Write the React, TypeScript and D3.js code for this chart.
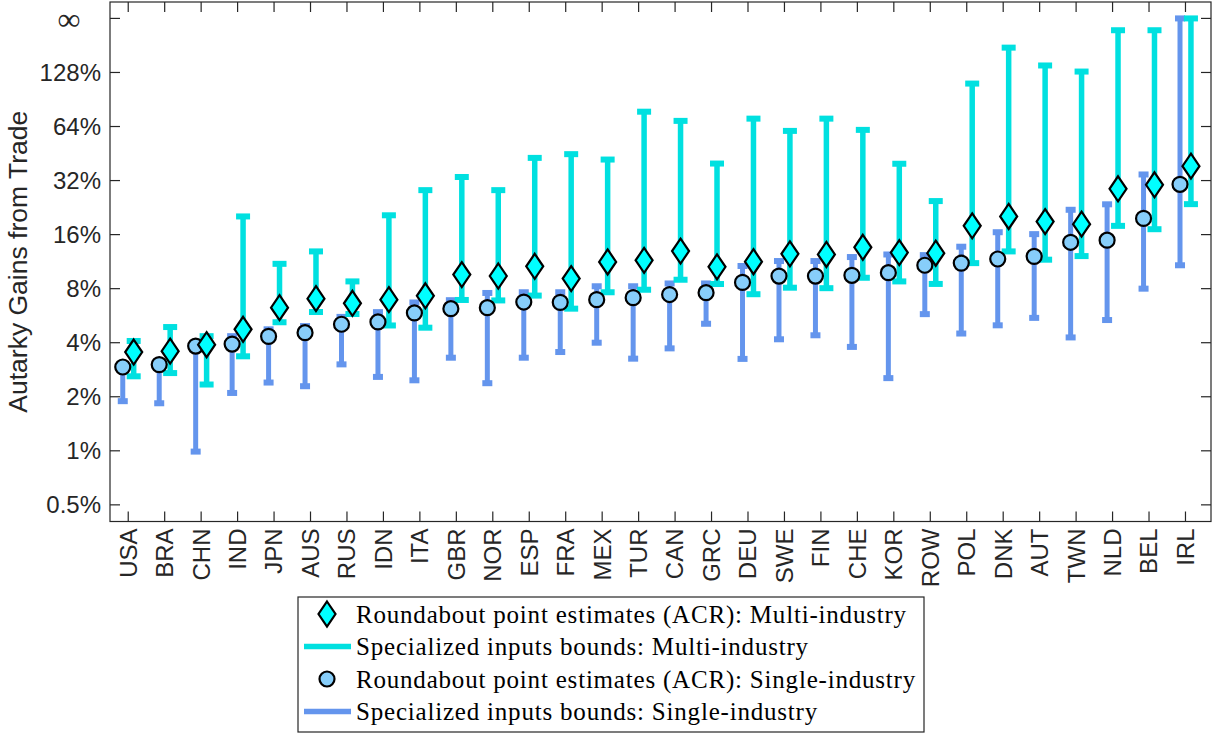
import React from "react";
import * as d3 from "d3";

// Countries, ordered by the single-industry point estimate
const countries = [
  "USA", "BRA", "CHN", "IND", "JPN", "AUS", "RUS", "IDN", "ITA", "GBR",
  "NOR", "ESP", "FRA", "MEX", "TUR", "CAN", "GRC", "DEU", "SWE", "FIN",
  "CHE", "KOR", "ROW", "POL", "DNK", "AUT", "TWN", "NLD", "BEL", "IRL",
];

// Gains from trade in percent; Infinity marks an unbounded upper bound
const singlePoint = [
  2.93, 3.02, 3.83, 3.93, 4.34, 4.55, 5.07, 5.22, 5.86, 6.19,
  6.27, 6.74, 6.71, 6.95, 7.13, 7.42, 7.6, 8.67, 9.4, 9.4,
  9.49, 9.82, 10.8, 11.1, 11.7, 12.1, 14.5, 14.9, 19.7, 30.5,
];
const singleLow = [
  1.89, 1.84, 0.99, 2.1, 2.4, 2.29, 3.03, 2.58, 2.47, 3.3,
  2.38, 3.3, 3.55, 4.0, 3.26, 3.72, 5.1, 3.25, 4.18, 4.4,
  3.79, 2.54, 5.77, 4.5, 5.0, 5.5, 4.28, 5.35, 8.0, 10.8,
];
const singleHigh = [
  3.0, 3.1, 4.0, 4.35, 4.75, 4.95, 5.57, 5.92, 6.7, 6.9,
  7.57, 7.64, 7.64, 8.25, 8.25, 8.55, 8.55, 10.7, 11.4, 11.4,
  12.0, 12.4, 12.3, 13.7, 16.5, 16.1, 22.0, 23.6, 34.6, Infinity,
];
const multiPoint = [
  3.55, 3.59, 3.9, 4.75, 6.27, 7.04, 6.63, 6.95, 7.3, 9.58,
  9.41, 10.66, 9.1, 11.27, 11.5, 12.95, 10.58, 11.3, 12.5, 12.4,
  13.6, 12.7, 12.6, 17.9, 20.2, 18.9, 18.3, 28.8, 30.3, 38.5,
];
const multiLow = [
  2.6, 2.71, 2.34, 3.36, 5.2, 5.93, 5.78, 4.99, 4.85, 6.92,
  6.88, 7.32, 6.19, 7.64, 7.89, 8.97, 8.49, 7.45, 8.1, 8.05,
  9.2, 8.78, 8.5, 11.1, 12.9, 11.6, 12.15, 17.9, 17.15, 23.65,
];
const multiHigh = [
  4.09, 4.89, 4.35, 20.2, 11.0, 12.9, 8.78, 20.5, 28.3, 33.5,
  28.3, 42.8, 44.9, 41.9, 77.4, 68.8, 39.8, 70.8, 60.5, 70.8,
  61.3, 39.7, 24.6, 111, 176, 140, 129.5, 220, 220, Infinity,
];

// Y axis ticks; the top tick stands for an infinite gain
const yTickValues = [0.5, 1, 2, 4, 8, 16, 32, 64, 128, 256];
const yTickLabels = ["0.5%", "1%", "2%", "4%", "8%", "16%", "32%", "64%", "128%", "\u221E"];
const INF_POS = 256;

const legendLabels = [
  "Roundabout point estimates (ACR): Multi-industry",
  "Specialized inputs bounds: Multi-industry",
  "Roundabout point estimates (ACR): Single-industry",
  "Specialized inputs bounds: Single-industry",
];

const W = 1215;
const H = 734;
const plot = { left: 110, right: 1211, top: 2, bottom: 521.5 };

const AXIS = "#262626";
const CYAN_BAR = "#00E0E0";
const CYAN_FILL = "#00FFFF";
const BLUE_BAR = "#6495ED";
const BLUE_FILL = "#87CEFA";

const SANS = "'Liberation Sans', Arial, Helvetica, sans-serif";
const SERIF = "'Liberation Serif', 'Times New Roman', serif";

const fin = (v: number) => (Number.isFinite(v) ? v : INF_POS);

export default function App() {
  const x = d3
    .scaleLinear()
    .domain([0.5, 30.7])
    .range([plot.left, plot.right]);
  const y = d3
    .scaleLog()
    .base(2)
    .domain([0.4039, 316])
    .range([plot.bottom, plot.top]);

  const offset = 0.15;
  const idx = countries.map((_, i) => i + 1);

  const diamond = (cx: number, cy: number, hw: number, hh: number) =>
    `M${cx},${cy - hh}L${cx + hw},${cy}L${cx},${cy + hh}L${cx - hw},${cy}Z`;

  const errorBar = (
    cx: number,
    lo: number,
    hi: number,
    color: string,
    lw: number,
    capW: number,
    capH: number,
    key: string
  ) => {
    const y0 = y(fin(lo));
    const y1 = y(fin(hi));
    return (
      <g key={key}>
        <line x1={cx} x2={cx} y1={y0} y2={y1} stroke={color} strokeWidth={lw} />
        <rect x={cx - capW / 2} y={y0 - capH / 2} width={capW} height={capH} fill={color} />
        <rect x={cx - capW / 2} y={y1 - capH / 2} width={capW} height={capH} fill={color} />
      </g>
    );
  };

  const tickLen = 10;
  const legend = { x: 298, y: 597, w: 626, h: 135 };
  const rowY = [614, 646.5, 679, 711.5];
  const lastTick = yTickLabels.length - 1;

  return (
    <svg
      width={W}
      height={H}
      viewBox={`0 0 ${W} ${H}`}
      style={{ position: "absolute", left: 0, top: 0, background: "#fff" }}
    >
      <rect x={0} y={0} width={W} height={H} fill="#fff" />

      {/* single-industry bounds */}
      {idx.map((i, k) =>
        errorBar(x(i - offset), singleLow[k], singleHigh[k], BLUE_BAR, 5, 10, 6, `sb${k}`)
      )}
      {/* multi-industry bounds */}
      {idx.map((i, k) =>
        errorBar(x(i + offset), multiLow[k], multiHigh[k], CYAN_BAR, 5.5, 14, 6, `mb${k}`)
      )}
      {/* single-industry point estimates */}
      {idx.map((i, k) => (
        <circle
          key={`sp${k}`}
          cx={x(i - offset)}
          cy={y(singlePoint[k])}
          r={7.5}
          fill={BLUE_FILL}
          stroke="#000"
          strokeWidth={2.2}
        />
      ))}
      {/* multi-industry point estimates */}
      {idx.map((i, k) => (
        <path
          key={`mp${k}`}
          d={diamond(x(i + offset), y(multiPoint[k]), 8.5, 12.5)}
          fill={CYAN_FILL}
          stroke="#000"
          strokeWidth={2.2}
          strokeLinejoin="miter"
        />
      ))}

      {/* axes box */}
      <rect
        x={plot.left}
        y={plot.top}
        width={plot.right - plot.left}
        height={plot.bottom - plot.top}
        fill="none"
        stroke={AXIS}
        strokeWidth={1.2}
      />
      {yTickValues.map((v, k) => (
        <g key={`yt${k}`}>
          <line x1={plot.left} x2={plot.left + tickLen} y1={y(v)} y2={y(v)} stroke={AXIS} strokeWidth={1.2} />
          <line x1={plot.right} x2={plot.right - tickLen} y1={y(v)} y2={y(v)} stroke={AXIS} strokeWidth={1.2} />
          {k === lastTick ? (
            <text
              x={69}
              y={y(v) + 12}
              textAnchor="middle"
              fontFamily={SERIF}
              fontSize={32}
              fill={AXIS}
            >
              {yTickLabels[k]}
            </text>
          ) : (
            <text
              x={plot.left - 9}
              y={y(v)}
              dy="0.35em"
              textAnchor="end"
              fontFamily={SANS}
              fontSize={24}
              fill={AXIS}
            >
              {yTickLabels[k]}
            </text>
          )}
        </g>
      ))}
      {idx.map((i, k) => (
        <g key={`xt${k}`}>
          <line x1={x(i)} x2={x(i)} y1={plot.bottom} y2={plot.bottom - tickLen} stroke={AXIS} strokeWidth={1.2} />
          <line x1={x(i)} x2={x(i)} y1={plot.top} y2={plot.top + tickLen} stroke={AXIS} strokeWidth={1.2} />
          <text
            transform={`translate(${x(i)},${plot.bottom + 7}) rotate(-90)`}
            dy="0.35em"
            textAnchor="end"
            fontFamily={SANS}
            fontSize={24}
            fill={AXIS}
          >
            {countries[k]}
          </text>
        </g>
      ))}
      <text
        transform={`translate(27,${(plot.top + plot.bottom) / 2}) rotate(-90)`}
        textAnchor="middle"
        fontFamily={SANS}
        fontSize={26.5}
        fill={AXIS}
      >
        Autarky Gains from Trade
      </text>

      {/* legend */}
      <rect x={legend.x} y={legend.y} width={legend.w} height={legend.h} fill="#fff" stroke={AXIS} strokeWidth={1.2} />
      <path d={diamond(327, rowY[0], 8.5, 12.5)} fill={CYAN_FILL} stroke="#000" strokeWidth={2.2} />
      <line x1={304} x2={351} y1={rowY[1]} y2={rowY[1]} stroke={CYAN_BAR} strokeWidth={5.5} />
      <circle cx={327} cy={rowY[2]} r={7.5} fill={BLUE_FILL} stroke="#000" strokeWidth={2.2} />
      <line x1={304} x2={351} y1={rowY[3]} y2={rowY[3]} stroke={BLUE_BAR} strokeWidth={5.5} />
      {legendLabels.map((t, k) => (
        <text
          key={`lg${k}`}
          x={356}
          y={rowY[k]}
          dy="0.35em"
          fontFamily={SERIF}
          fontSize={25}
          letterSpacing={0.8}
          fill="#000"
        >
          {t}
        </text>
      ))}
    </svg>
  );
}
